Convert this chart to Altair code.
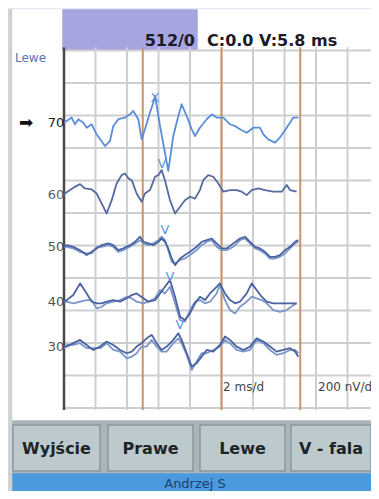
import altair as alt
import pandas as pd

# ---------------- data (time in ms, amplitude in nV, 2 ms/div, 200 nV/div) -------------
LEVELS = ["70", "60", "50", "40", "30"]
BASELINE_DIV = [8.78, 6.55, 4.96, 3.27, 1.89]

T70 = [0.0, 0.49, 0.70, 0.91, 1.23, 1.44, 1.76, 2.07, 2.60, 2.92, 3.13, 3.45, 3.87, 4.19, 4.40, 4.72,
       4.93, 5.14, 5.46, 5.67, 5.78, 6.10, 6.41, 6.62, 6.94, 7.26, 7.47, 7.79, 8.11, 8.32, 8.63, 9.06,
       9.38, 9.69, 10.12, 10.54, 10.86, 11.17, 11.60, 12.02, 12.44, 12.66, 12.97, 13.40, 13.71, 14.14,
       14.56, 14.88]
A70 = [0, 31, -10, 21, 0, -31, -10, -72, -144, -113, -21, 21, 31, 51, 72, 21, -103, -41, 62, 123,
       164, -21, -185, -297, -82, 41, 113, 41, -41, -82, -31, 21, 51, 31, 31, -10, -21, -41, -62, -31,
       -31, -72, -103, -123, -92, -31, 31, 31]

T60 = [0, 0.06, 0.38, 0.70, 1.02, 1.33, 1.76, 2.07, 2.39, 2.71, 3.03, 3.34, 3.66, 3.87, 4.09, 4.30,
       4.61, 4.93, 5.14, 5.46, 5.78, 5.99, 6.20, 6.41, 6.73, 7.05, 7.37, 7.68, 8.00, 8.32, 8.63, 8.84,
       9.16, 9.48, 9.80, 10.12, 10.54, 10.96, 11.28, 11.60, 11.92, 12.34, 12.76, 13.29, 13.82, 14.14,
       14.35, 14.77]
A60 = [0, 10, 31, 51, 68, 41, 35, 10, -51, -113, -31, 72, 123, 133, 103, 92, 10, -41, 10, 31, 113,
       123, 154, 92, -31, -113, -72, -31, -10, -21, 31, 92, 123, 113, 72, 21, 31, 31, 21, 0, 31, 41,
       31, 21, 21, 62, 31, 21]

T50 = [0, 0.17, 0.59, 1.02, 1.44, 1.76, 2.07, 2.39, 2.81, 3.13, 3.45, 3.77, 4.19, 4.51, 4.83, 5.04,
       5.36, 5.67, 5.99, 6.20, 6.41, 6.62, 6.84, 7.05, 7.37, 7.68, 8.00, 8.42, 8.74, 9.06, 9.38, 9.69,
       10.01, 10.33, 10.75, 11.17, 11.49, 11.81, 12.13, 12.44, 12.76, 13.08, 13.40, 13.71, 14.03,
       14.35, 14.67, 14.88]
A50A = [0, 10, 0, -21, -51, -31, -10, 10, 21, 10, -21, -10, 10, 31, 62, 31, 21, 10, 31, 51, 31, -10,
        -72, -113, -72, -51, -31, 0, 31, 41, 51, 21, -10, -10, 21, 51, 62, 31, 0, -10, -31, -62, -62,
        -51, -21, 0, 31, 41]
A50B = [0, 0, -10, -31, -41, -41, 0, 0, 10, 0, -31, -21, 0, 21, 41, 21, 10, 21, 41, 62, 41, -21,
        -92, -103, -82, -72, -51, -21, 10, 31, 41, 0, -21, -21, 0, 41, 51, 21, -10, -21, -41, -72,
        -72, -62, -41, -10, 21, 31]

T40 = [0, 0.17, 0.59, 1.02, 1.44, 1.76, 2.07, 2.39, 2.71, 3.13, 3.56, 3.98, 4.30, 4.61, 5.04, 5.36,
       5.78, 6.10, 6.41, 6.73, 7.05, 7.37, 7.68, 8.00, 8.32, 8.63, 8.95, 9.27, 9.69, 9.90, 10.22,
       10.54, 10.86, 11.17, 11.60, 11.92, 12.23, 12.55, 12.87, 13.29, 13.71, 14.14, 14.56, 14.77]
A40A = [0, 10, 41, 113, 51, 0, -10, -10, 0, 10, 0, 21, 41, 51, 21, 0, 10, 51, 92, 133, 31, -92,
        -113, -72, -10, 31, 10, 51, 92, 113, 51, 10, -10, 0, 51, 113, 72, 31, 0, -10, -10, -10, -10,
        -10]
A40B = [0, 0, -10, 0, 10, 10, -41, -31, -10, 0, 10, 31, 21, 0, -10, 0, 21, 72, 51, 92, -10, -113,
        -123, -51, 0, 10, -10, 0, 51, 103, 10, -51, -72, -31, 0, 31, 21, 10, -10, -51, -62, -51, -21,
        -10]

T30 = [0, 0.17, 0.59, 1.02, 1.44, 1.86, 2.29, 2.71, 3.13, 3.56, 3.98, 4.30, 4.61, 4.93, 5.25, 5.57,
       5.88, 6.20, 6.52, 6.94, 7.26, 7.47, 7.79, 8.11, 8.42, 8.74, 9.06, 9.48, 9.90, 10.22, 10.54,
       10.96, 11.39, 11.81, 12.23, 12.66, 13.08, 13.50, 13.93, 14.35, 14.67, 14.88]
A30A = [0, 0, 21, 41, 10, -21, 0, 31, 10, -21, -41, -31, 0, 21, 51, 72, 21, -21, 0, 41, 82, 41, -41,
        -123, -103, -62, -21, -31, 10, 62, 41, 0, -21, 0, 51, 31, 0, -31, -21, -10, -31, -62]
A30B = [-10, 10, 10, 21, -10, -10, -10, 21, -21, -31, -72, -62, -41, 0, 0, 41, 0, -31, -31, 21, 51,
        21, -51, -144, -92, -41, -41, -21, 0, 41, 21, -21, -31, -21, 41, 21, -21, -51, -41, -21, -21,
        -41]

# wave V markers
V_LAT_MS = [5.78, 6.22, 6.41, 6.73, 7.37]
V_MARK_DIV = [9.54, 7.51, 5.48, 4.03, 2.55]
V_MARK_TEXT = ["X", "V", "V", "V", "V"]

GRID_MS = [0, 2, 4, 6, 8, 10, 12, 14, 16, 18]
GRID_DIV = [0, 1, 2, 3, 4, 5, 6, 7, 8, 9, 10, 11]
CURSOR_MS = [5, 10, 15]

BUTTONS = ["Wyjście", "Prawe", "Lewe", "V - fala"]
HEADER_LEFT = "512/0"
HEADER_RIGHT = "C:0.0 V:5.8 ms"
PATIENT = "Andrzej S"
SIDE = "Lewe"
SCALE_LABELS = ["2 ms/d", "200 nV/d"]

# ---------------- build tables ----------------
rows = []
def add(name, ts, amps, base):
    for i, (t, a) in enumerate(zip(ts, amps)):
        rows.append({"trace": name, "i": i, "t": t, "v": base + a / 200.0})

add("50b", T50, A50B, BASELINE_DIV[2])
add("40b", T40, A40B, BASELINE_DIV[3])
add("30b", T30, A30B, BASELINE_DIV[4])
add("70a", T70, A70, BASELINE_DIV[0])
add("60a", T60, A60, BASELINE_DIV[1])
add("50a", T50, A50A, BASELINE_DIV[2])
add("40a", T40, A40A, BASELINE_DIV[3])
add("30a", T30, A30A, BASELINE_DIV[4])
waves = pd.DataFrame(rows)

XS = alt.Scale(domain=[-3.5556, 19.4921], nice=False, zero=False)
YS = alt.Scale(domain=[-2.5538, 12.3077], nice=False, zero=False)

def X(f):
    return alt.X(f, scale=XS, axis=None)

def Y(f):
    return alt.Y(f, scale=YS, axis=None)

# UI panels (pixel positions inside the chart)
panels = pd.DataFrame([
    {"x": 1, "x2": 5, "y": 2, "y2": 483, "fill": "#cdd2cf", "stroke": "#cdd2cf"},
    {"x": 5, "x2": 363, "y": 2, "y2": 413, "fill": "#ffffff", "stroke": "#ffffff"},
    {"x": 55, "x2": 189, "y": 2, "y2": 42, "fill": "#a7a5df", "stroke": "#a7a5df"},
    {"x": 5, "x2": 363, "y": 413, "y2": 466, "fill": "#a9b6bc", "stroke": "#a9b6bc"},
    {"x": 5, "x2": 92, "y": 417, "y2": 463, "fill": "#bccacd", "stroke": "#8a989f"},
    {"x": 100, "x2": 185, "y": 417, "y2": 463, "fill": "#bccacd", "stroke": "#8a989f"},
    {"x": 192, "x2": 277, "y": 417, "y2": 463, "fill": "#bccacd", "stroke": "#8a989f"},
    {"x": 283, "x2": 363, "y": 417, "y2": 463, "fill": "#bccacd", "stroke": "#8a989f"},
    {"x": 5, "x2": 363, "y": 466, "y2": 483, "fill": "#4b9ade", "stroke": "#4b9ade"},
])
panel_layer = alt.Chart(panels).mark_rect(strokeWidth=1.5).encode(
    x=alt.X("x:Q", scale=None), x2="x2", y=alt.Y("y:Q", scale=None), y2="y2",
    fill=alt.Fill("fill:N", scale=None), stroke=alt.Stroke("stroke:N", scale=None))

vgrid = alt.Chart(pd.DataFrame({"t": GRID_MS, "lo": -0.06, "hi": 11.1})).mark_rule(
    color="#cbcfd2", strokeWidth=2).encode(x=X("t:Q"), y=Y("lo:Q"), y2="hi:Q")
hgrid = alt.Chart(pd.DataFrame({"v": GRID_DIV, "lo": 0, "hi": 19.49})).mark_rule(
    color="#cbcfd2", strokeWidth=2).encode(y=Y("v:Q"), x=X("lo:Q"), x2="hi:Q")
cursors = alt.Chart(pd.DataFrame({"t": CURSOR_MS, "lo": -0.06, "hi": 11.1})).mark_rule(
    color="#c9946c", strokeWidth=2).encode(x=X("t:Q"), y=Y("lo:Q"), y2="hi:Q")
axis_line = alt.Chart(pd.DataFrame({"t": [0], "lo": [-0.06], "hi": [11.1]})).mark_rule(
    color="#4a4a4a", strokeWidth=2.5).encode(x=X("t:Q"), y=Y("lo:Q"), y2="hi:Q")

trace_domain = ["70a", "60a", "50a", "50b", "40a", "40b", "30a", "30b"]
trace_colors = ["#5b8ed8", "#566a9f", "#4a62a0", "#7b96c9", "#4a62a0", "#7b96c9", "#4a62a0", "#7b96c9"]
lines = alt.Chart(waves).mark_line(strokeWidth=1.8, strokeJoin="round").encode(
    x=X("t:Q"), y=Y("v:Q"), detail="trace:N", order="i:Q",
    color=alt.Color("trace:N", scale=alt.Scale(domain=trace_domain, range=trace_colors), legend=None))

markers = alt.Chart(pd.DataFrame({"t": V_LAT_MS, "v": V_MARK_DIV, "s": V_MARK_TEXT})).mark_text(
    font="DejaVu Sans", fontSize=13, color="#5b95dd").encode(x=X("t:Q"), y=Y("v:Q"), text="s:N")

lab = pd.DataFrame({"t": [-0.05] * 5, "v": BASELINE_DIV, "s": LEVELS,
                    "c": ["#1a1a1a", "#606060", "#505050", "#505050", "#505050"]})
labels = alt.Chart(lab).mark_text(font="DejaVu Sans", fontSize=13, align="right",
                                  baseline="middle", dx=1).encode(
    x=X("t:Q"), y=Y("v:Q"), text="s:N", color=alt.Color("c:N", scale=None))
arrow = alt.Chart(pd.DataFrame({"v": [BASELINE_DIV[0]], "s": ["➡"]})).mark_text(
    font="DejaVu Sans", fontSize=17, color="#111111", baseline="middle").encode(
    x=alt.value(18), y=Y("v:Q"), text="s:N")

scale_txt = alt.Chart(pd.DataFrame({"t": [10.1, 16.13], "v": [0.65, 0.65], "s": SCALE_LABELS})).mark_text(
    font="DejaVu Sans", fontSize=12, color="#444444", align="left", baseline="middle").encode(
    x=X("t:Q"), y=Y("v:Q"), text="s:N")

def ptext(df, **kw):
    return alt.Chart(df).mark_text(**kw).encode(
        x=alt.X("x:Q", scale=None), y=alt.Y("y:Q", scale=None), text="s:N")

hdr_l = ptext(pd.DataFrame({"x": [187], "y": [33], "s": [HEADER_LEFT]}), font="DejaVu Sans",
              fontSize=16, fontWeight="bold", color="#1b1b2b", align="right", baseline="middle")
hdr_r = ptext(pd.DataFrame({"x": [199], "y": [33], "s": [HEADER_RIGHT]}), font="DejaVu Sans",
              fontSize=16, fontWeight="bold", color="#1b1b2b", align="left", baseline="middle")
side = ptext(pd.DataFrame({"x": [7], "y": [50], "s": [SIDE]}), font="DejaVu Sans",
             fontSize=12, color="#5874b4", align="left", baseline="middle")
btns = ptext(pd.DataFrame({"x": [48.5, 142.5, 234.5, 323], "y": [441] * 4, "s": BUTTONS}),
             font="DejaVu Sans", fontSize=16, fontWeight="bold", color="#1e2326",
             align="center", baseline="middle")
patient = ptext(pd.DataFrame({"x": [187], "y": [476], "s": [PATIENT]}), font="DejaVu Sans",
                fontSize=13, color="#1f3f72", align="center", baseline="middle")

chart = alt.layer(
    panel_layer, vgrid, hgrid, cursors, axis_line, lines, markers, labels, arrow, scale_txt,
    hdr_l, hdr_r, side, btns, patient
).properties(
    width=363, height=483, autosize="none", padding=0, background="#e3e8ee"
).configure_view(stroke=None)

chart.save("out.html", embed_options={"renderer": "svg", "actions": False})
